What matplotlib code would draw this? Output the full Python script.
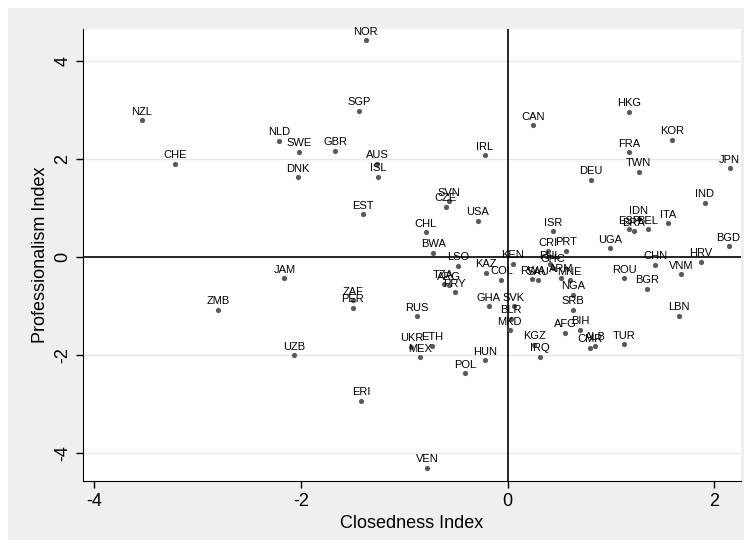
import matplotlib.pyplot as plt
from matplotlib.patches import Rectangle

# country codes with (closedness, professionalism)
countries = ["NOR", "SGP", "NZL", "NLD", "SWE", "GBR", "CHE", "AUS", "ISL", "DNK",
             "IRL", "CAN", "HKG", "KOR", "FRA", "TWN", "JPN", "DEU", "IND", "SVN",
             "CZE", "EST", "USA", "CHL", "ISR", "IDN", "ESP", "BRA", "BEL", "ITA",
             "UGA", "BGD", "BWA", "CRI", "PRT", "LSO", "KEN", "PHL", "GHC", "KAZ",
             "COL", "RWA", "SAU", "ARM", "MNE", "CHN", "HRV", "VNM", "ROU", "BGR",
             "JAM", "TZA", "ARG", "PRY", "NGA", "ZAF", "PER", "ZMB", "GHA", "SVK",
             "SRB", "BLR", "RUS", "LBN", "MKD", "AFG", "BIH", "UKR", "ETH", "KGZ",
             "ALB", "CMR", "TUR", "UZB", "MEX", "IRQ", "HUN", "POL", "ERI", "VEN"]
closedness = [-1.375, -1.44, -3.54, -2.21, -2.02, -1.67, -3.22, -1.26, -1.25, -2.03,
              -0.22, 0.25, 1.18, 1.59, 1.18, 1.27, 2.15, 0.81, 1.91, -0.57,
              -0.60, -1.40, -0.29, -0.79, 0.44, 1.27, 1.18, 1.22, 1.36, 1.55,
              0.99, 2.14, -0.72, 0.39, 0.57, -0.48, 0.05, 0.41, 0.44, -0.21,
              -0.06, 0.24, 0.29, 0.52, 0.60, 1.43, 1.87, 1.68, 1.13, 1.35,
              -2.16, -0.62, -0.57, -0.51, 0.63, -1.50, -1.50, -2.80, -0.18, 0.06,
              0.63, 0.03, -0.88, 1.66, 0.02, 0.56, 0.70, -0.93, -0.73, 0.26,
              0.85, 0.80, 1.13, -2.07, -0.85, 0.31, -0.22, -0.41, -1.42, -0.78]
professionalism = [4.42, 2.98, 2.79, 2.37, 2.15, 2.17, 1.90, 1.90, 1.64, 1.63,
                   2.07, 2.69, 2.96, 2.39, 2.14, 1.74, 1.81, 1.58, 1.11, 1.14,
                   1.02, 0.87, 0.74, 0.50, 0.52, 0.77, 0.57, 0.53, 0.57, 0.69,
                   0.18, 0.22, 0.085, 0.12, 0.13, -0.18, -0.14, -0.15, -0.22, -0.32,
                   -0.46, -0.45, -0.47, -0.42, -0.47, -0.16, -0.10, -0.35, -0.43, -0.65,
                   -0.43, -0.55, -0.58, -0.72, -0.77, -0.88, -1.04, -1.08, -1.01, -1.01,
                   -1.08, -1.26, -1.21, -1.20, -1.50, -1.55, -1.48, -1.83, -1.81, -1.79,
                   -1.81, -1.85, -1.78, -2.01, -2.05, -2.04, -2.11, -2.37, -2.93, -4.30]

x_ticks = [-4, -2, 0, 2]
y_ticks = [-4, -2, 0, 2, 4]

plt.rcParams['font.family'] = ['Liberation Sans', 'DejaVu Sans']
plt.rcParams['axes.unicode_minus'] = False  # stata prints a plain hyphen

fig = plt.figure(figsize=(7.44, 5.46), dpi=100, facecolor='white')
# stata-style light gray graph region, kept behind the axes
bg = Rectangle((8 / 744, 6 / 546), 736 / 744, 532 / 546,
               transform=fig.transFigure, facecolor='#efefef',
               edgecolor='none', zorder=-10)
fig.add_artist(bg)
ax = fig.add_axes([83 / 744, 65 / 546, 658 / 744, 452 / 546])
ax.set_facecolor('white')

ax.set_xlim(-4.11, 2.26)
ax.set_ylim(-4.57, 4.65)

for yv in y_ticks:
    if yv != 0:
        ax.axhline(yv, color='#e6e6e6', lw=1.0, zorder=1)
ax.axhline(0, color='black', lw=1.2, zorder=2)
ax.axvline(0, color='black', lw=1.2, zorder=2)

ax.scatter(closedness, professionalism, s=14, color='#595959', zorder=3, linewidths=0)
for name, xv, yv in zip(countries, closedness, professionalism):
    ax.annotate(name, (xv, yv), xytext=(0, 2.5), textcoords='offset points',
                ha='center', va='bottom', fontsize=8, zorder=4)

ax.set_xticks(x_ticks)
ax.set_yticks(y_ticks)
ax.tick_params(axis='both', labelsize=13, length=5, width=1, direction='out')
plt.setp(ax.get_yticklabels(), rotation=90, va='center')
ax.spines['top'].set_visible(False)
ax.spines['right'].set_visible(False)
ax.set_xlabel('Closedness Index', fontsize=13)
ax.set_ylabel('Professionalism Index', fontsize=13)

fig.savefig('out.png', dpi=100)
